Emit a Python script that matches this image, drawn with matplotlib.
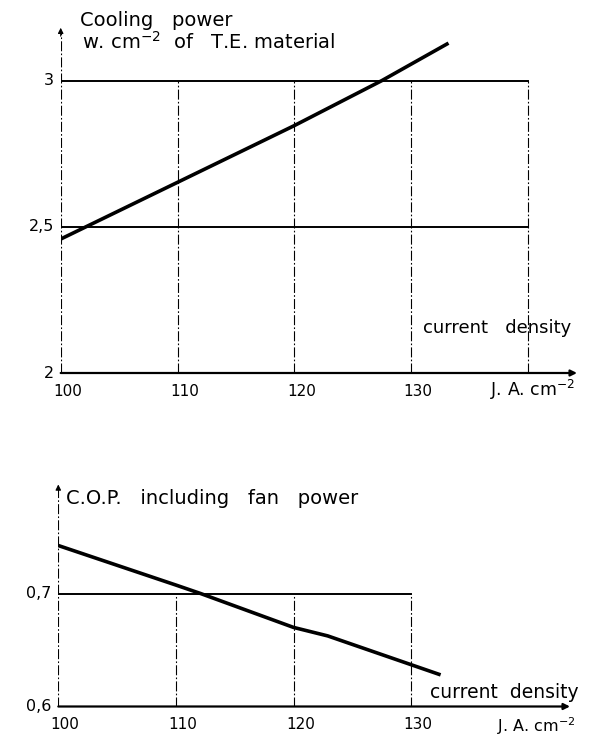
import matplotlib
matplotlib.use("Agg")
import matplotlib.pyplot as plt
from matplotlib.transforms import offset_copy

# --- data ---
# top: cooling power (W/cm2 of T.E. material) vs current density (A/cm2)
cp_j = [100, 110, 120, 127.5, 133.2]
cp_val = [2.458, 2.652, 2.846, 3.0, 3.128]
cp_xticks = [100, 110, 120, 130]
cp_xgrid = [110, 120, 130, 140]
cp_yticks = [2, 2.5, 3]
cp_ylabels = ["2", "2,5", "3"]

# bottom: C.O.P. including fan power vs current density
cop_j = [100, 110, 112.1, 120, 122.9, 132.5]
cop_val = [0.7425, 0.7075, 0.70, 0.670, 0.6625, 0.628]
cop_xticks = [100, 110, 120, 130]
cop_xgrid = [110, 120, 130]
cop_yticks = [0.6, 0.7]
cop_ylabels = ["0,6", "0,7"]

W, H = 616, 738
fig = plt.figure(figsize=(W / 100, H / 100), dpi=100)
plt.rcParams["font.family"] = ["DejaVu Sans"]


def box(x0, y0, x1, y1):
    # pixel box -> figure fraction rect
    return [x0 / W, 1 - y1 / H, (x1 - x0) / W, (y1 - y0) / H]


def draw_panel(ax, j, vals, xticks, xgrid, yticks, ylabels, xlim, ylim, hgrid_end):
    ax.set_xlim(*xlim)
    ax.set_ylim(*ylim)
    ax.axis("off")
    y0 = ylim[0]
    ytop = yticks[-1]
    dashdot = (0, (9, 2, 1.5, 2))
    # vertical grid lines
    for gx in xgrid:
        ax.plot([gx, gx], [y0, ytop], color="black", lw=0.8, ls=dashdot)
    # horizontal grid lines
    for gy in yticks[1:]:
        ax.plot([xlim[0], hgrid_end], [gy, gy], color="black", lw=1.4)
    # y axis with arrow
    ax.plot([xlim[0], xlim[0]], [y0, ylim[1] - 0.02 * (ylim[1] - y0)],
            color="black", lw=0.8, ls=dashdot)
    ax.annotate("", xy=(xlim[0], ylim[1]), xytext=(xlim[0], ylim[1] - 0.04 * (ylim[1] - y0)),
                arrowprops=dict(arrowstyle="-|>", color="black", lw=0.8,
                                mutation_scale=8))
    # x axis with arrow
    ax.annotate("", xy=(xlim[1], y0), xytext=(xlim[0], y0),
                arrowprops=dict(arrowstyle="-|>", color="black", lw=1.6,
                                mutation_scale=9, shrinkA=0, shrinkB=0))
    # curve
    ax.plot(j, vals, color="black", lw=2.6, solid_capstyle="butt")
    # tick labels
    tx = offset_copy(ax.transData, fig=fig, x=5, y=-13, units="points")
    for t in xticks:
        ax.text(t, y0, str(t), transform=tx, ha="center", va="center",
                fontsize=11)
    ty = offset_copy(ax.transData, fig=fig, x=-5, y=0, units="points")
    for v, lab in zip(yticks, ylabels):
        ax.text(xlim[0], v, lab, transform=ty, ha="right", va="center",
                fontsize=11.5)


# top panel
ax1 = fig.add_axes(box(60.7, 25, 577, 373))
draw_panel(ax1, cp_j, cp_val, cp_xticks, cp_xgrid, cp_yticks, cp_ylabels,
           (100, 144.2), (2, 3.19), 140)
fig.text(80 / W, 1 - 20 / H, "Cooling   power", fontsize=14, va="center")
fig.text(82 / W, 1 - 42 / H, r"w. cm$^{-2}$  of   T.E. material", fontsize=14,
         va="center")
fig.text(423 / W, 1 - 328 / H, "current   density", fontsize=13, va="center")
fig.text(490 / W, 1 - 390 / H, r"J. A. cm$^{-2}$", fontsize=12.5, va="center")

# bottom panel
ax2 = fig.add_axes(box(58.3, 481.7, 570, 706.5))
draw_panel(ax2, cop_j, cop_val, cop_xticks, cop_xgrid, cop_yticks, cop_ylabels,
           (100, 143.5), (0.6, 0.799), 130)
fig.text(66 / W, 1 - 499 / H, "C.O.P.   including   fan   power", fontsize=14,
         va="center")
fig.text(430 / W, 1 - 692 / H, "current  density", fontsize=13.5, va="center")
fig.text(497 / W, 1 - 726 / H, r"J. A. cm$^{-2}$", fontsize=11.5, va="center")

fig.savefig("out.png", dpi=100)
